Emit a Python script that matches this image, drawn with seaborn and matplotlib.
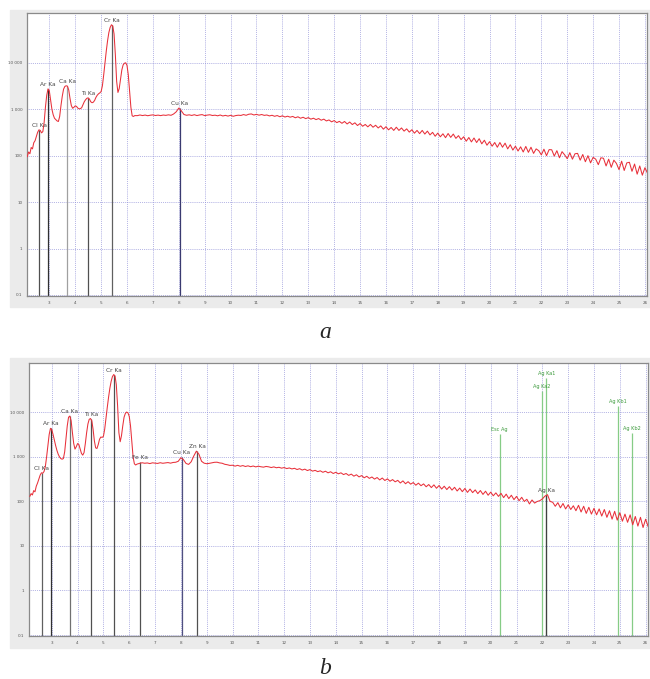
import numpy as np
import pandas as pd
import matplotlib
matplotlib.use("Agg")
import matplotlib.pyplot as plt
import seaborn as sns
from matplotlib.patches import Rectangle
from matplotlib.ticker import MultipleLocator, NullLocator

# energy channels (keV)
kev_peak = np.round(np.arange(2.15, 6.301, 0.05), 2)
kev_tail = np.round(np.arange(6.4, 26.101, 0.1), 2)

# spectrum a, counts
a_peak = [95, 120, 110, 150, 140, 190, 210, 260, 320, 360,
          350, 310, 330, 520, 1100, 2000, 2750, 2500, 1600, 1000,
          760, 640, 600, 560, 545, 700, 1200, 1900, 2700, 3100,
          3200, 3150, 2600, 1700, 1200, 1050, 1100, 1180, 1150, 1060,
          1020, 1030, 1080, 1250, 1450, 1600, 1720, 1760, 1650, 1450,
          1380, 1420, 1550, 1800, 2000, 2150, 2250, 2400, 3200, 5500,
          10000, 18000, 30000, 45000, 58000, 66000, 62000, 42000, 15000, 4000,
          2300, 2800, 4500, 7000, 9000, 9800, 10000, 8800, 5500, 2500,
          1100, 720, 700, 730]
a_tail = [728, 752, 731, 749, 725, 744, 756, 733, 747, 729,
          750, 738, 758, 741, 790, 880, 1060, 920, 770, 742,
          758, 735, 762, 731, 752, 766, 729, 748, 760, 733,
          745, 722, 751, 716, 738, 712, 740, 705, 731, 744,
          735, 768, 741, 780, 792, 752, 776, 745, 770, 738,
          752, 718, 741, 705, 731, 690, 722, 680, 708, 675,
          700, 655, 688, 640, 672, 628, 660, 612, 641, 598,
          630, 580, 612, 560, 588, 535, 570, 515, 548, 498,
          545, 482, 530, 468, 510, 446, 492, 430, 470, 418,
          470, 410, 452, 395, 438, 372, 420, 360, 405, 350,
          410, 350, 395, 338, 378, 322, 362, 305, 350, 298,
          350, 292, 338, 280, 318, 262, 306, 255, 296, 244,
          300, 248, 292, 236, 270, 222, 255, 205, 246, 198,
          240, 192, 232, 180, 215, 168, 200, 160, 192, 152,
          192, 152, 186, 140, 172, 132, 160, 126, 155, 120,
          158, 118, 152, 112, 140, 128, 104, 138, 100, 135,
          134, 98, 128, 90, 122, 104, 86, 116, 84, 110,
          112, 80, 106, 74, 100, 70, 92, 84, 64, 90,
          88, 60, 84, 56, 80, 68, 50, 76, 48, 70,
          72, 46, 66, 40, 60, 38, 55, 42]

# spectrum b
b_peak = [130, 150, 140, 175, 165, 220, 260, 320, 390, 440,
          430, 470, 600, 1000, 1800, 3200, 4400, 4100, 3200, 2400,
          1800, 1400, 1150, 1000, 920, 890, 920, 1300, 2600, 5000,
          7800, 8300, 6500, 3500, 2000, 1500, 1700, 2000, 1900, 1500,
          1200, 1100, 1250, 2000, 3500, 5500, 7000, 7300, 6500, 4200,
          2300, 1600, 1550, 1900, 2500, 2800, 2750, 2900, 4200, 7500,
          13000, 22000, 35000, 50000, 64000, 71000, 66000, 42000, 14000, 3500,
          2200, 3000, 5000, 7800, 9500, 10200, 9800, 8200, 5000, 2200,
          1000, 700, 660, 690]
b_tail = [718, 740, 722, 733, 710, 738, 726, 715, 742, 721,
          736, 748, 725, 752, 760, 800, 960, 870, 715, 680,
          780, 1050, 1350, 1150, 800, 725, 705, 718, 736, 758,
          762, 735, 722, 684, 668, 645, 652, 622, 648, 618,
          640, 610, 632, 604, 626, 598, 620, 602, 590, 612,
          600, 578, 598, 572, 586, 560, 578, 548, 566, 538,
          556, 522, 545, 508, 532, 495, 520, 480, 500, 468,
          488, 452, 478, 440, 465, 425, 452, 418, 440, 402,
          425, 385, 412, 370, 398, 356, 382, 340, 368, 330,
          355, 318, 345, 305, 336, 296, 322, 285, 310, 276,
          298, 260, 290, 250, 278, 245, 266, 232, 258, 226,
          248, 214, 240, 205, 236, 198, 228, 190, 220, 185,
          215, 180, 208, 172, 200, 166, 196, 160, 190, 158,
          182, 150, 176, 144, 170, 138, 162, 134, 156, 130,
          152, 122, 146, 116, 138, 110, 130, 104, 124, 100,
          112, 88, 108, 92, 100, 104, 114, 132, 142, 100,
          96, 78, 94, 72, 90, 68, 84, 66, 80, 62,
          82, 58, 78, 54, 74, 52, 70, 50, 68, 47,
          66, 44, 62, 40, 60, 38, 56, 36, 52, 34,
          50, 30, 46, 28, 44, 26, 40, 27]

# element markers
a_names = ["Cl Ka", "Ar Ka", "Ca Ka", "Ti Ka", "Cr Ka", "Cu Ka"]
a_kev = [2.62, 2.96, 3.69, 4.51, 5.41, 8.04]
a_top = [360, 2750, 3200, 1760, 66000, 1060]
a_shade = ["#505050", "#303030", "#a0a0a0", "#505050", "#606060", "#3a3a70"]

b_names = ["Cl Ka", "Ar Ka", "Ca Ka", "Ti Ka", "Cr Ka", "Fe Ka", "Cu Ka", "Zn Ka", "Ag Ka"]
b_kev = [2.62, 2.96, 3.69, 4.51, 5.41, 6.40, 8.04, 8.63, 22.16]
b_top = [440, 4400, 8300, 7300, 71000, 760, 990, 1350, 142]
b_shade = ["#606060", "#303030", "#707070", "#505050", "#505050", "#505050", "#505080", "#505050", "#404040"]

ag_names = ["Esc Ag", "Ag Ka2", "Ag Ka1", "Ag Kb1", "Ag Kb2"]
ag_kev = [20.35, 21.99, 22.16, 24.94, 25.46]
ag_top = [3200, 30000, 60000, 14000, 3500]

x_ticks = list(range(3, 27))
y_ticks = [0.1, 1, 10, 100, 1000, 10000]
y_ticklabels = ["0.1", "1", "10", "100", "1 000", "10 000"]

sns.set_style("white")
W, H = 650, 679
fig = plt.figure(figsize=(6.5, 6.79), dpi=100)


def px_axes(left, top, right, bottom):
    return fig.add_axes([left / W, 1 - bottom / H, (right - left) / W, (bottom - top) / H])


def backdrop(left, top, right, bottom):
    fig.add_artist(Rectangle((left / W, 1 - bottom / H), (right - left) / W, (bottom - top) / H,
                             transform=fig.transFigure, color="#ebebeb", zorder=-5))


def draw_panel(ax, counts, names, kevs, tops, shades, xlim, ylim):
    df = pd.DataFrame({"keV": np.r_[kev_peak, kev_tail], "counts": counts})
    ax.set_yscale("log")
    ax.set_xlim(*xlim)
    ax.set_ylim(*ylim)
    ax.set_xticks(x_ticks)
    ax.set_yticks(y_ticks)
    ax.set_yticklabels(y_ticklabels)
    ax.yaxis.set_minor_locator(NullLocator())
    ax.xaxis.set_minor_locator(MultipleLocator(0.5))
    ax.grid(True, which="major", color="#8a8ad6", ls=(0, (1, 1.5)), lw=0.55)
    ax.tick_params(which="major", labelsize=3, colors="#555555", length=2, width=0.4, pad=1.5)
    ax.tick_params(which="minor", length=1, width=0.3, colors="#777777")
    ax.vlines(kevs, ylim[0], tops, colors=shades, lw=0.9, zorder=2)
    sns.lineplot(data=df, x="keV", y="counts", ax=ax, color="#e8303a", lw=0.75,
                 estimator=None, sort=False, zorder=3)
    for n, x, t in zip(names, kevs, tops):
        ax.text(x, t * 1.1, n, ha="center", va="bottom", fontsize=4.2, color="#444444", zorder=4)
    ax.set_xlabel("")
    ax.set_ylabel("")
    for s in ax.spines.values():
        s.set_color("#8a8a8a")
        s.set_linewidth(0.9)


backdrop(10, 10, 650, 307)
ax_a = px_axes(27.3, 12.7, 647, 296)
draw_panel(ax_a, a_peak + a_tail, a_names, a_kev, a_top, a_shade, (2.15, 26.08), (0.095, 120000))

backdrop(10, 358, 650, 648)
ax_b = px_axes(29.3, 362.7, 647.7, 636)
ax_b.vlines(ag_kev, 0.095, ag_top, colors="#86cc86", lw=0.9, zorder=1.5)
for n, x, t in zip(ag_names, ag_kev, ag_top):
    ax_b.text(x, t * 1.12, n, ha="center", va="bottom", fontsize=3.6, color="#3c9a3c", zorder=4)
draw_panel(ax_b, b_peak + b_tail, b_names, b_kev, b_top, b_shade, (2.13, 26.08), (0.095, 131000))

fig.text(325 / W, 1 - 333 / H, "a", fontsize=17, style="italic", family="Liberation Serif",
         ha="center", va="center")
fig.text(325 / W, 1 - 668 / H, "b", fontsize=17, style="italic", family="Liberation Serif",
         ha="center", va="center")

fig.savefig("out.png", dpi=100)
